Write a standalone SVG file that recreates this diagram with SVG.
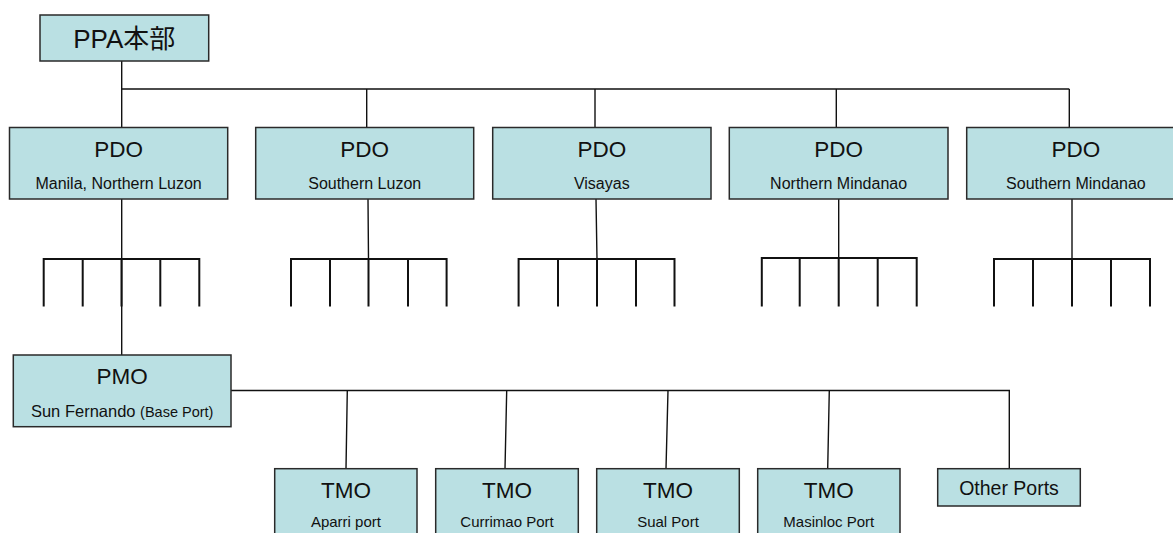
<svg xmlns="http://www.w3.org/2000/svg" width="1173" height="533" viewBox="0 0 1173 533">
<style>
.box{fill:#BAE0E3;stroke:#2a2a2a;stroke-width:1.5}
.ln{stroke:#111;stroke-width:1.4;fill:none}
.cb{stroke:#111;stroke-width:2;fill:none}
text{font-family:"Liberation Sans",Arial,"Noto Sans CJK JP",sans-serif;fill:#111;text-anchor:middle}
.t{font-size:22.5px}
.s{font-size:16px}
.p{font-size:15px}
</style>
<rect width="1173" height="533" fill="#fff"/>
<g id="connectors">
<path class="ln" d="M121.7 61V127.5M121.7 89H1069.3M366.7 89V127.5M595 89V127.5M836.3 89V127.5M1069.3 89V127.5"/>
<path class="ln" d="M121.7 199V355M368 199L368.5 259M596 199L597 259M838.7 199V258M1072 199V259"/>
<path class="cb" d="M43.7 306.5V259H199.3V306.5M82.7 259V306.5M121.5 259V306.5M160.3 259V306.5"/>
<path class="cb" d="M291 306.5V259H446.6V306.5M330 259V306.5M368.5 259V306.5M408 259V306.5"/>
<path class="cb" d="M518.6 306.5V259H674.5V306.5M558 259V306.5M597 259V306.5M636 259V306.5"/>
<path class="cb" d="M761.8 306.5V258H916.7V306.5M799.7 258V306.5M838.7 258V306.5M877.7 258V306.5"/>
<path class="cb" d="M994 306.5V259H1150V306.5M1033 259V306.5M1072 259V306.5M1111 259V306.5"/>
<path class="ln" d="M231 390.5H1009.3V468.7M347.3 390.5L346 468.7M506.7 390.5L505 468.7M668 390.5L666 468.7M829.3 390.5L827.7 468.7"/>
</g>
<g id="ppa">
<rect class="box" x="40" y="15" width="168.7" height="46"/>
<text x="124.3" y="47.5" style="font-size:26px">PPA本部</text>
</g>
<g id="pdo1">
<rect class="box" x="9.5" y="127.5" width="218.2" height="71.5"/>
<text class="t" x="118.6" y="156.7">PDO</text>
<text class="s" x="118.6" y="189.3">Manila, Northern Luzon</text>
</g>
<g id="pdo2">
<rect class="box" x="255.7" y="127.5" width="218" height="71.5"/>
<text class="t" x="364.7" y="156.7">PDO</text>
<text class="s" x="364.7" y="189.3">Southern Luzon</text>
</g>
<g id="pdo3">
<rect class="box" x="492.7" y="127.5" width="218.3" height="71.5"/>
<text class="t" x="601.8" y="156.7">PDO</text>
<text class="s" x="601.8" y="189.3">Visayas</text>
</g>
<g id="pdo4">
<rect class="box" x="729.3" y="127.5" width="218.7" height="71.5"/>
<text class="t" x="838.6" y="156.7">PDO</text>
<text class="s" x="838.6" y="189.3">Northern Mindanao</text>
</g>
<g id="pdo5">
<rect class="box" x="966.7" y="127.5" width="218.5" height="71.5"/>
<text class="t" x="1075.9" y="156.7">PDO</text>
<text class="s" x="1075.9" y="189.3">Southern Mindanao</text>
</g>
<g id="pmo">
<rect class="box" x="13.3" y="355" width="217.7" height="71.7"/>
<text class="t" x="122.2" y="383.5">PMO</text>
<text x="122.2" y="416.5"><tspan style="font-size:16.5px">Sun Fernando </tspan><tspan style="font-size:14.5px">(Base Port)</tspan></text>
</g>
<g id="tmo1">
<rect class="box" x="274.7" y="468.7" width="142.3" height="75"/>
<text class="t" x="345.9" y="497.8">TMO</text>
<text class="p" x="345.9" y="527">Aparri port</text>
</g>
<g id="tmo2">
<rect class="box" x="435.7" y="468.7" width="142.6" height="75"/>
<text class="t" x="507" y="497.8">TMO</text>
<text class="p" x="507" y="527">Currimao Port</text>
</g>
<g id="tmo3">
<rect class="box" x="596.7" y="468.7" width="142.6" height="75"/>
<text class="t" x="668" y="497.8">TMO</text>
<text class="p" x="668" y="527">Sual Port</text>
</g>
<g id="tmo4">
<rect class="box" x="757.7" y="468.7" width="142.3" height="75"/>
<text class="t" x="828.8" y="497.8">TMO</text>
<text class="p" x="828.8" y="527">Masinloc Port</text>
</g>
<g id="other">
<rect class="box" x="937.7" y="468.7" width="142.6" height="37.3"/>
<text x="1009" y="495" style="font-size:19.5px">Other Ports</text>
</g>
</svg>
